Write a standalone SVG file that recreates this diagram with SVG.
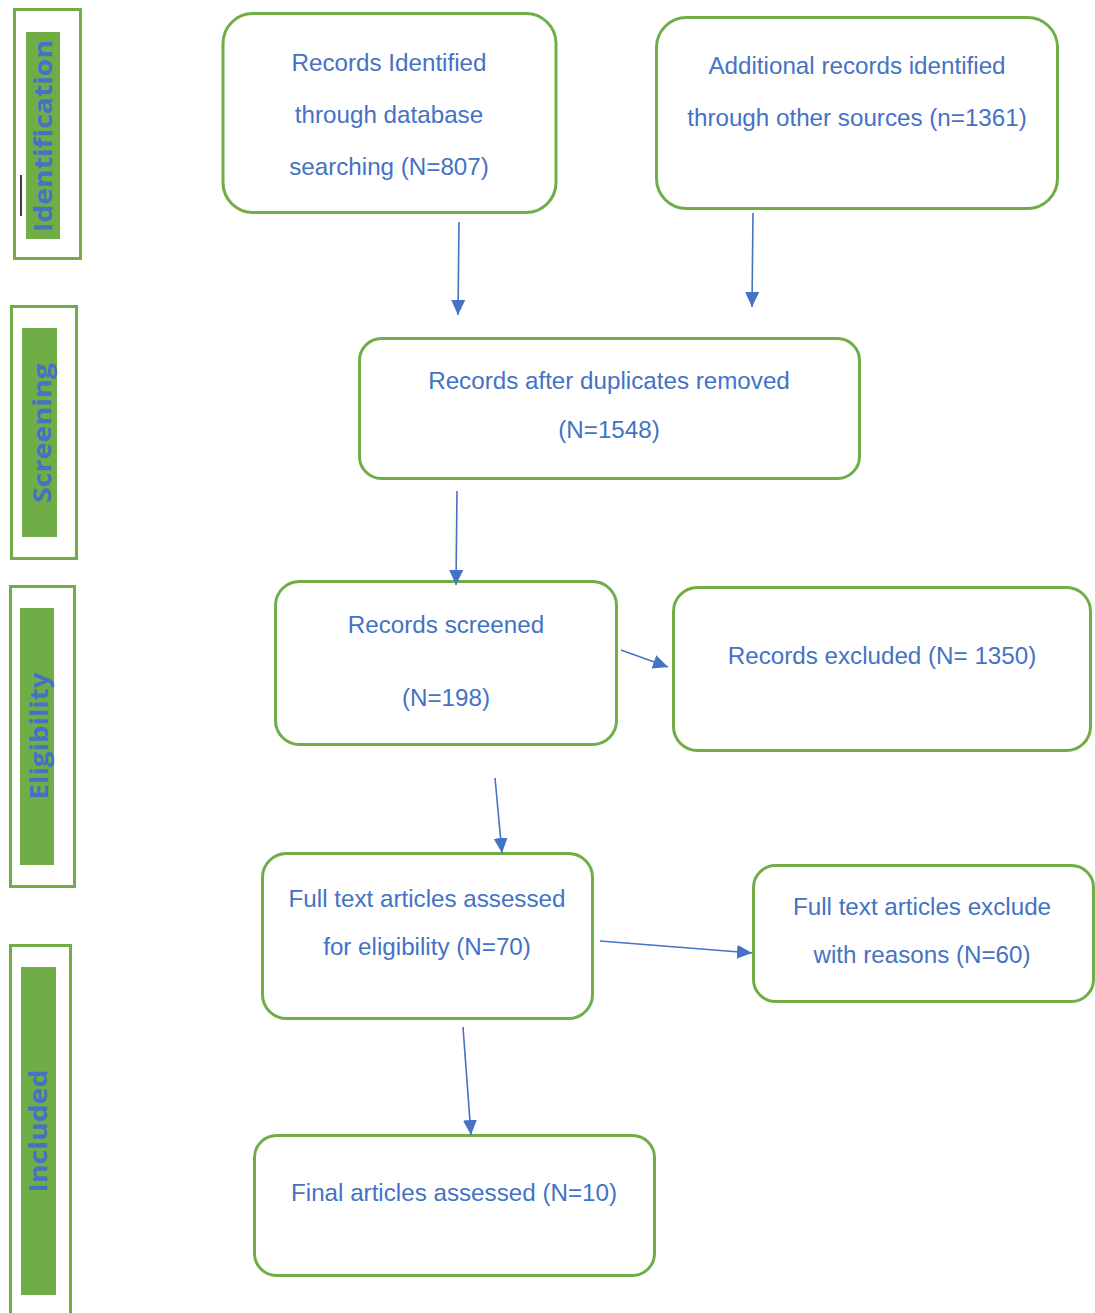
<svg xmlns="http://www.w3.org/2000/svg" width="1095" height="1313" viewBox="0 0 1095 1313">
<defs>
<style>
.box{fill:#fff;stroke:#70AD47;stroke-width:3}
.t{font-family:"Liberation Sans",Arial,sans-serif;font-size:24.2px;fill:#4472C4;text-anchor:middle}
.frame{fill:#fff;stroke:#70AD47;stroke-width:3}
.band{fill:#70AD47}
.side{font-family:"Open Sans","Liberation Sans",sans-serif;font-weight:bold;font-size:25px;fill:#4472C4;text-anchor:middle}
.c{stroke:#4472C4;stroke-width:1.6;fill:none;marker-end:url(#ah)}
</style>
<marker id="ah" markerUnits="userSpaceOnUse" markerWidth="18" markerHeight="16" refX="15" refY="7" orient="auto">
<path d="M0,0 L15,7 L0,14 Z" fill="#4472C4"/>
</marker>
</defs>
<rect width="1095" height="1313" fill="#fff"/>

<g id="stage-identification">
<rect class="frame" x="14.5" y="9.5" width="66" height="249"/>
<rect class="band" x="26" y="32" width="34" height="207"/>
<line x1="21" y1="175" x2="21" y2="216" stroke="#000" stroke-width="1.5"/>
<text class="side" transform="translate(52,136) rotate(-90)" textLength="192" lengthAdjust="spacingAndGlyphs">Identification</text>
</g>
<g id="stage-screening">
<rect class="frame" x="11.5" y="306.5" width="65" height="252"/>
<rect class="band" x="22" y="328" width="35" height="209"/>
<text class="side" transform="translate(51,433) rotate(-90)" textLength="140" lengthAdjust="spacingAndGlyphs">Screening</text>
</g>
<g id="stage-eligibility">
<rect class="frame" x="10.5" y="586.5" width="64" height="300"/>
<rect class="band" x="20" y="608" width="34" height="257"/>
<text class="side" transform="translate(48,736) rotate(-90)" textLength="127" lengthAdjust="spacingAndGlyphs">Eligibility</text>
</g>
<g id="stage-included">
<rect class="frame" x="10.5" y="945.5" width="60" height="380"/>
<rect class="band" x="21" y="967" width="35" height="328"/>
<text class="side" transform="translate(47,1131) rotate(-90)" textLength="123" lengthAdjust="spacingAndGlyphs">Included</text>
</g>

<g id="n1">
<rect class="box" x="223" y="13.5" width="333" height="199" rx="30"/>
<text class="t" x="389" y="71">Records Identified</text>
<text class="t" x="389" y="123">through database</text>
<text class="t" x="389" y="175">searching (N=807)</text>
</g>
<g id="n2">
<rect class="box" x="656.5" y="17.5" width="401" height="191" rx="30"/>
<text class="t" x="857" y="74">Additional records identified</text>
<text class="t" x="857" y="126">through other sources (n=1361)</text>
</g>
<g id="n3">
<rect class="box" x="359.5" y="338.5" width="500" height="140" rx="22"/>
<text class="t" x="609" y="389">Records after duplicates removed</text>
<text class="t" x="609" y="438">(N=1548)</text>
</g>
<g id="n4">
<rect class="box" x="275.5" y="581.5" width="341" height="163" rx="24"/>
<text class="t" x="446" y="633">Records screened</text>
<text class="t" x="446" y="706">(N=198)</text>
</g>
<g id="n5">
<rect class="box" x="673.5" y="587.5" width="417" height="163" rx="24"/>
<text class="t" x="882" y="664">Records excluded (N= 1350)</text>
</g>
<g id="n6">
<rect class="box" x="262.5" y="853.5" width="330" height="165" rx="24"/>
<text class="t" x="427" y="907">Full text articles assessed</text>
<text class="t" x="427" y="955">for eligibility (N=70)</text>
</g>
<g id="n7">
<rect class="box" x="753.5" y="865.5" width="340" height="136" rx="22"/>
<text class="t" x="922" y="915">Full text articles exclude</text>
<text class="t" x="922" y="963">with reasons (N=60)</text>
</g>
<g id="n8">
<rect class="box" x="254.5" y="1135.5" width="400" height="140" rx="22"/>
<text class="t" x="454" y="1201">Final articles assessed (N=10)</text>
</g>

<g id="connectors">
<line class="c" x1="459" y1="222" x2="458" y2="315"/>
<line class="c" x1="753" y1="213" x2="752" y2="307"/>
<line class="c" x1="457" y1="491" x2="456" y2="585"/>
<line class="c" x1="621" y1="650" x2="668" y2="667"/>
<line class="c" x1="495" y1="778" x2="502" y2="853"/>
<line class="c" x1="600" y1="941" x2="752" y2="953"/>
<line class="c" x1="463" y1="1027" x2="471" y2="1135"/>
</g>
</svg>
